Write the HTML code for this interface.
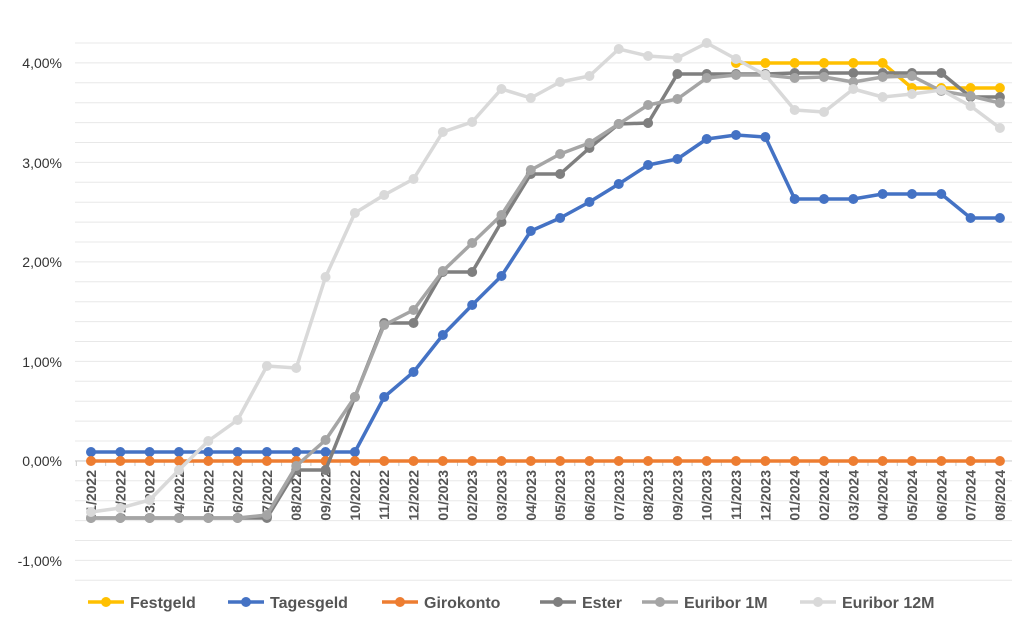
<!DOCTYPE html>
<html><head><meta charset="utf-8"><style>
body{margin:0;background:#fff;}
svg{display:block;font-family:"Liberation Sans",sans-serif;}
</style></head><body>
<svg id="s" width="1024" height="623" xmlns="http://www.w3.org/2000/svg"></svg>
<script>
const s=document.getElementById('s');let h='';
const X=i=>91+29.32*i;
for(let k=0;k<28;k++){const y=43+k*19.9;h+=`<line x1="75" x2="1012" y1="${y}" y2="${y}" stroke="#e8e8e8" stroke-width="1"/>`;}
const labs=[['4,00%',63],['3,00%',163],['2,00%',262],['1,00%',362],['0,00%',461],['-1,00%',561]];
labs.forEach(([t,y])=>h+=`<text x="62" y="${y+5}" text-anchor="end" font-size="14" fill="#333">${t}</text>`);
h+=`<line x1="75" x2="1012" y1="461" y2="461" stroke="#ccc"/>`;
for(let i=0;i<32;i++){h+=`<line x1="${X(i)-14.66}" x2="${X(i)-14.66}" y1="461" y2="466" stroke="#ccc"/>`;}
const m=['01','02','03','04','05','06','07','08','09','10','11','12'];
for(let i=0;i<32;i++){const mm=m[i%12],yy=2022+Math.floor(i/12);
h+=`<text transform="translate(${X(i)+5},470) rotate(-90)" text-anchor="end" font-size="14" font-weight="bold" fill="#555">${mm}/${yy}</text>`;}
const S=[
['#4472c4',null,[452,452,452,452,452,452,452,452,452,452,397,372,335,305,276,231,218,202,184,165,159,139,135,137,199,199,199,194,194,194,218,218]],
['#ed7d31',null,Array(32).fill(461)],
['#7f7f7f',null,[518,518,518,518,518,518,518,470,470,397,323,323,272,272,222,174,174,148,124,123,74,74,74,74,73,73,73,73,73,73,97,97]],
['#a5a5a5',null,[518,518,518,518,518,518,515,466,440,397,325,310,271,243,215,170,154,143,124,105,99,78,75,75,78,77,82,77,76,91,96,103]],
['#d9d9d9',null,[512,508,500,470,441,420,366,368,277,213,195,179,132,122,89,98,82,76,49,56,58,43,59,75,110,112,89,97,94,90,106,128]],
];
const fest=[22,63,23,63,24,63,25,63,26,63,27,63,28,88,29,88,30,88,31,88];
function draw(c,pts){h+=`<polyline fill="none" stroke="${c}" stroke-width="3.5" stroke-linejoin="round" points="${pts.map(p=>p.join(',')).join(' ')}"/>`;pts.forEach(p=>h+=`<circle cx="${p[0]}" cy="${p[1]}" r="5" fill="${c}"/>`);}
const fp=[];for(let k=0;k<fest.length;k+=2)fp.push([X(fest[k]),fest[k+1]]);
draw('#ffc000',fp);
S.forEach(([c,_,v])=>draw(c,v.map((y,i)=>[X(i),y])));
const L=[['#ffc000','Festgeld',88],['#4472c4','Tagesgeld',228],['#ed7d31','Girokonto',382],['#7f7f7f','Ester',540],['#a5a5a5','Euribor 1M',642],['#d9d9d9','Euribor 12M',800]];
L.forEach(([c,t,x])=>{h+=`<line x1="${x}" x2="${x+36}" y1="602" y2="602" stroke="${c}" stroke-width="3.5"/><circle cx="${x+18}" cy="602" r="5" fill="${c}"/><text x="${x+42}" y="608" font-size="16" font-weight="bold" fill="#555">${t}</text>`;});
s.innerHTML=h;
</script>
</body></html>
